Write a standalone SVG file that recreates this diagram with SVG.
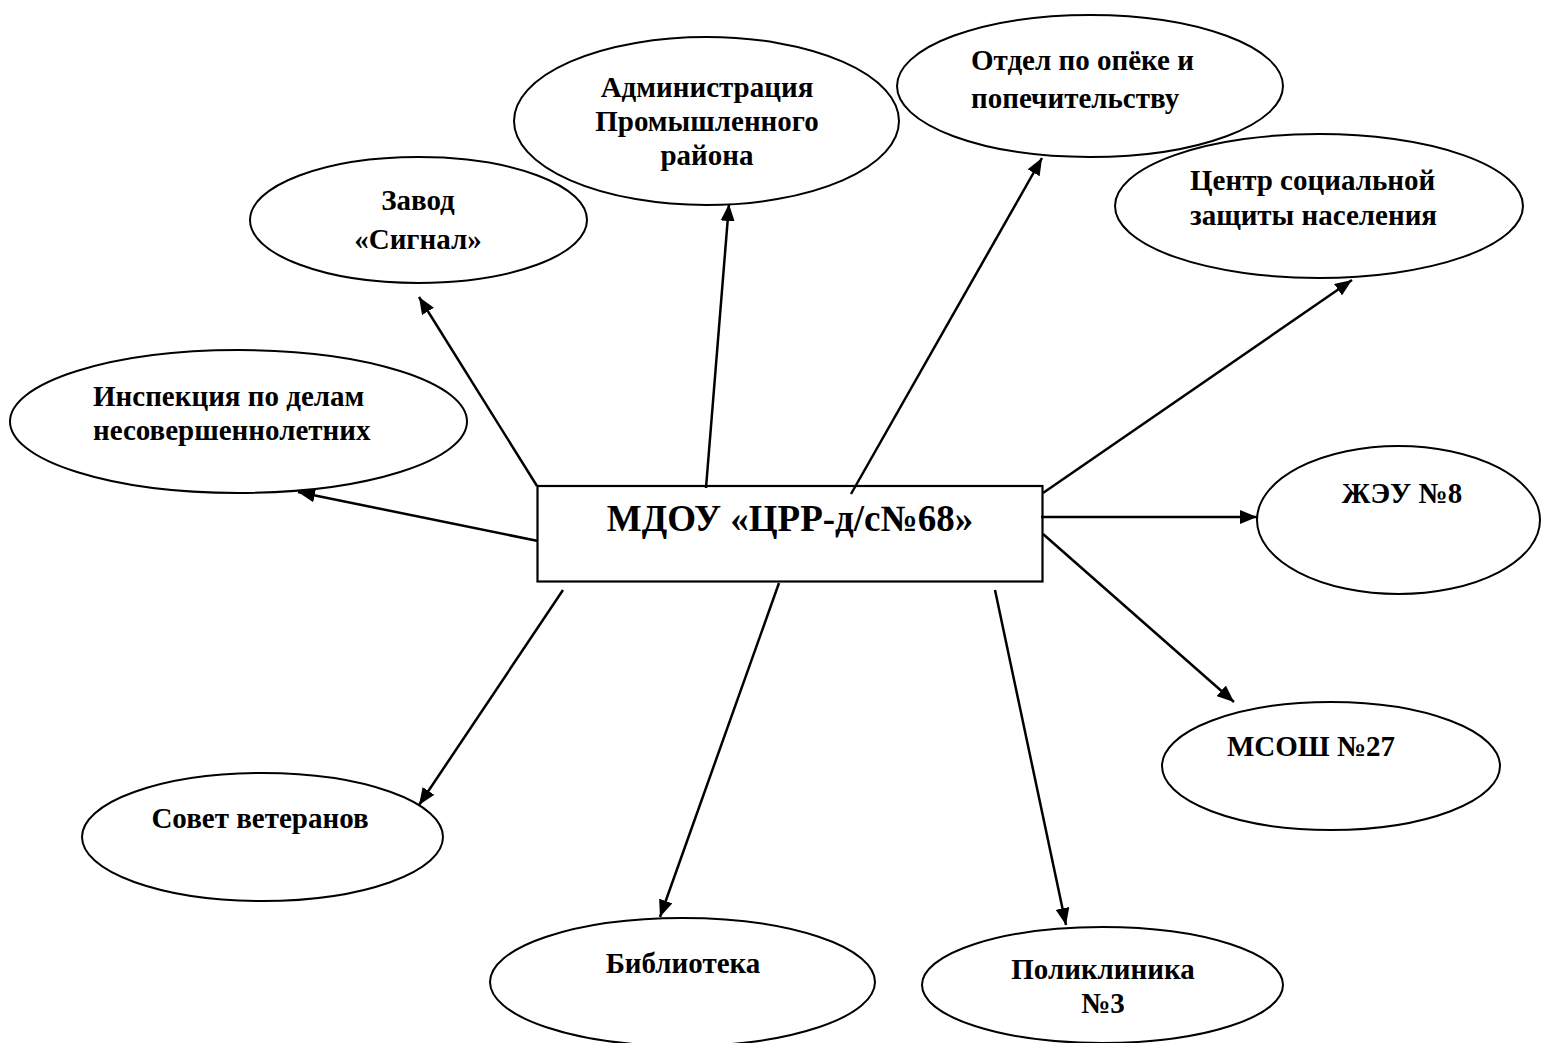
<svg xmlns="http://www.w3.org/2000/svg" width="1544" height="1043" viewBox="0 0 1544 1043">
<style>
.node ellipse{fill:none;stroke:#000;stroke-width:2}
.box{fill:#fff;stroke:#000;stroke-width:2.2}
text{font-family:"Liberation Serif","Times New Roman",serif;font-weight:bold;font-size:29px;fill:#000}
.c{text-anchor:middle}
.main{font-size:37px;text-anchor:middle}
.conn line{stroke:#000;stroke-width:2.5;marker-end:url(#arr)}
</style>
<defs>
<marker id="arr" markerUnits="userSpaceOnUse" markerWidth="17" markerHeight="14" refX="17" refY="7" orient="auto">
<path d="M0,0 L17,7 L0,14 z" fill="#000"/>
</marker>
</defs>
<rect width="1544" height="1043" fill="#fff"/>
<g id="n-inspekciya" class="node"><ellipse cx="238.5" cy="421.5" rx="228.5" ry="71.5"/><text x="93" y="406">Инспекция по делам</text><text x="93" y="440">несовершеннолетних</text></g>
<g id="n-zavod" class="node"><ellipse cx="418.5" cy="220" rx="168.5" ry="63"/><text class="c" x="418" y="210">Завод</text><text class="c" x="418" y="249">«Сигнал»</text></g>
<g id="n-admin" class="node"><ellipse cx="706.5" cy="121" rx="192.5" ry="84"/><text class="c" x="707" y="97">Администрация</text><text class="c" x="707" y="131">Промышленного</text><text class="c" x="707" y="165">района</text></g>
<g id="n-opeka" class="node"><ellipse cx="1090" cy="86" rx="193" ry="71"/><text x="971" y="70">Отдел по опёке и</text><text x="971" y="108">попечительству</text></g>
<g id="n-centr" class="node"><ellipse cx="1319" cy="206" rx="204" ry="72"/><text x="1190" y="190">Центр социальной</text><text x="1190" y="225">защиты населения</text></g>
<g id="n-zheu" class="node"><ellipse cx="1398.5" cy="520" rx="141.5" ry="74"/><text class="c" x="1402" y="503">ЖЭУ №8</text></g>
<g id="n-msosh" class="node"><ellipse cx="1331" cy="766" rx="169" ry="64"/><text class="c" x="1311" y="756">МСОШ №27</text></g>
<g id="n-poliklinika" class="node"><ellipse cx="1102.5" cy="985" rx="180.5" ry="58"/><text class="c" x="1103" y="979">Поликлиника</text><text class="c" x="1103" y="1013">№3</text></g>
<g id="n-biblioteka" class="node"><ellipse cx="682.5" cy="982" rx="192.5" ry="64"/><text class="c" x="683" y="973">Библиотека</text></g>
<g id="n-sovet" class="node"><ellipse cx="262.5" cy="837" rx="180.5" ry="64"/><text class="c" x="260" y="828">Совет ветеранов</text></g>
<g id="n-mdou"><rect class="box" x="537.5" y="486" width="505" height="95.5"/><text class="main" x="790" y="531">МДОУ «ЦРР-д/с№68»</text></g>
<g id="connectors" class="conn">
<line x1="538" y1="541" x2="298" y2="492"/>
<line x1="537" y1="486" x2="419" y2="297"/>
<line x1="706" y1="488" x2="729" y2="204"/>
<line x1="851" y1="494" x2="1042" y2="158"/>
<line x1="1043" y1="493" x2="1352" y2="280"/>
<line x1="1041" y1="517" x2="1257" y2="517"/>
<line x1="1043" y1="534" x2="1234" y2="702"/>
<line x1="995" y1="590" x2="1066" y2="925"/>
<line x1="779" y1="583" x2="660" y2="917"/>
<line x1="563" y1="590" x2="419" y2="805"/>
</g>
</svg>
